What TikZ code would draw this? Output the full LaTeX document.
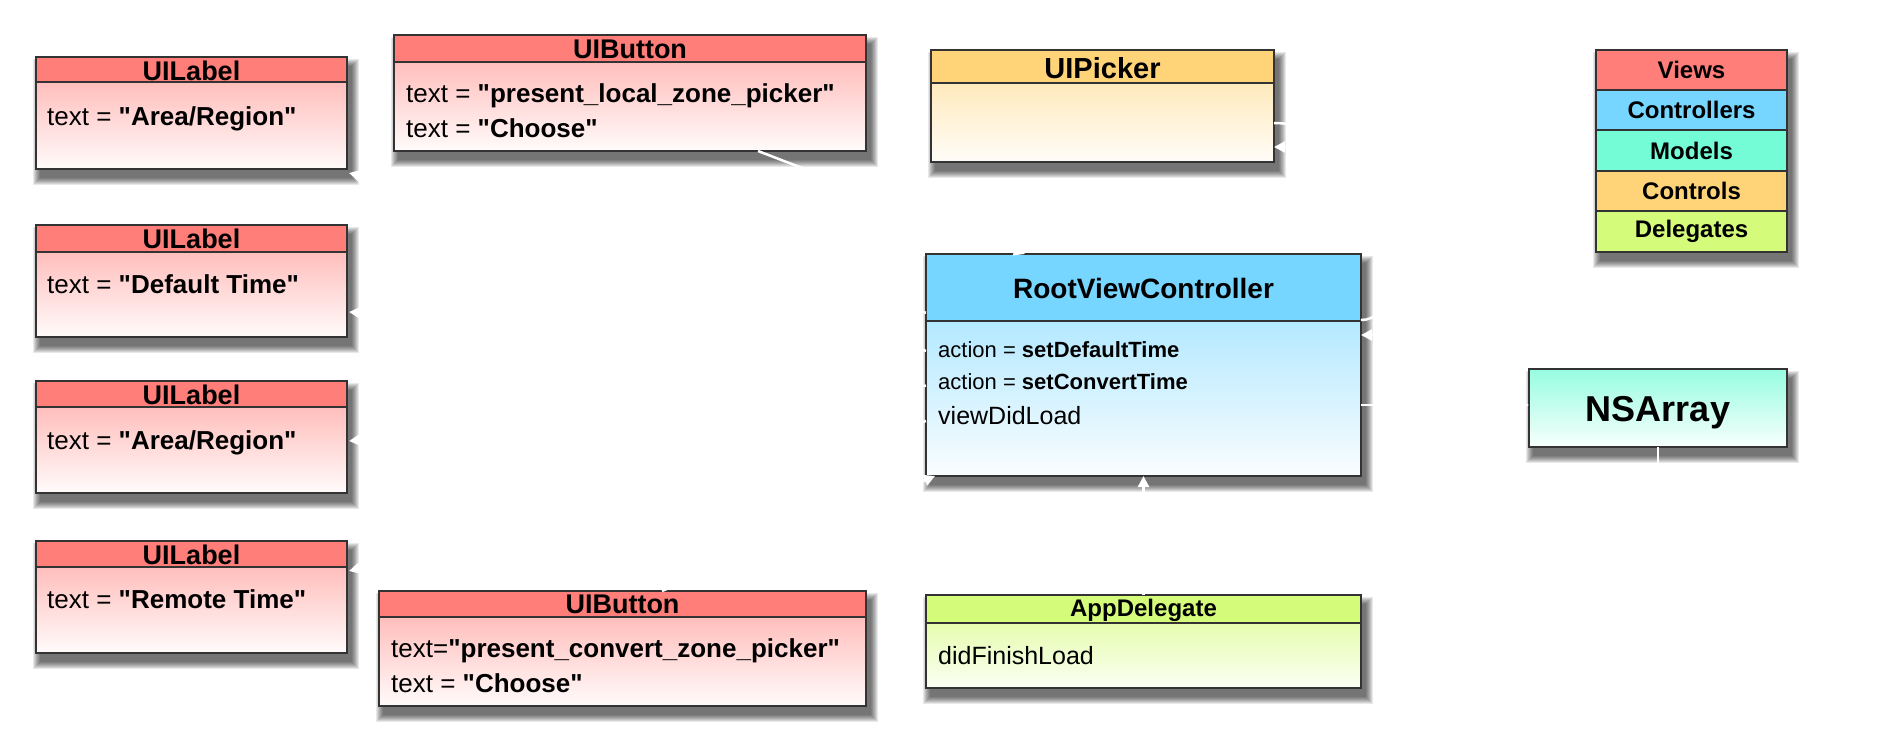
\documentclass[tikz,border=0pt]{standalone}
\usepackage{fontspec}
\setmainfont{Liberation Sans}
\usetikzlibrary{arrows.meta}
\definecolor{salmon}{HTML}{FF7E79}
\definecolor{sky}{HTML}{76D6FF}
\definecolor{spindrift}{HTML}{73FCD6}
\definecolor{cantaloupe}{HTML}{FFD479}
\definecolor{honeydew}{HTML}{D4FB79}
\definecolor{bordergray}{HTML}{333333}
\newcommand\qq[1]{\textquotedbl#1\textquotedbl}
\tikzset{
  boxbase/.style={rectangle, inner sep=0pt, outer sep=0pt, draw=none},
  border/.style={draw=bordergray, line width=2pt},
  hdr/.style={anchor=base, inner sep=0pt, text=black, font=\bfseries\fontsize{27}{32}\selectfont},
  txt/.style={anchor=base west, inner sep=0pt, text=black, font=\fontsize{26}{31}\selectfont},
  conn/.style={draw=white, line width=2.5pt, -{Triangle[length=11pt,width=11pt]}},
  ghost/.style={anchor=base west, inner sep=0pt, text=white, font=\fontsize{27}{32}\selectfont},
  legendrow/.style={rectangle, draw=bordergray, line width=2pt, inner sep=0pt, minimum width=191pt, text=black, font=\bfseries\fontsize{24}{28}\selectfont},
}
\newcommand\softshadow[4]{%
  \foreach \k in {1,...,8}{%
    \pgfmathsetmacro\shinf{(8-\k)*1.0}
    \fill[black, opacity=0.09] (#1+4-\shinf, #2+9-\shinf) rectangle (#3+5+\shinf, #4+9+\shinf);
  }}
\newcommand\umlbox[9]{%
  \softshadow{#2}{#3}{#4}{#5}
  \pgfmathsetmacro\bxw{#4-#2}\pgfmathsetmacro\bxh{#5-#3}
  \node[boxbase, fill=white, minimum width=\bxw pt, minimum height=\bxh pt, anchor=north west] (#1) at (#2,#3) {};
  \shade[top color=#8, bottom color=#9] (#2,#6) rectangle (#4,#5);
  \fill[#7] (#2,#3) rectangle (#4,#6);
  \draw[border] (#2,#6) -- (#4,#6);
  \draw[border] (#2,#3) rectangle (#4,#5);
}
\begin{document}
\begin{tikzpicture}[x=1pt,y=-1pt]
\fill[white] (0,0) rectangle (1878,748);
\useasboundingbox (0,0) rectangle (1878,748);

% ---- UILabels
\umlbox{lab1}{36}{57}{347}{169}{82}{salmon}{salmon!50!white}{salmon!3!white}
\node[hdr] (lab1t) at (191.5,80) {UILabel};
\node[txt] (lab1a) at (47,125) {text = \textbf{\qq{Area/Region}}};

\umlbox{lab2}{36}{225}{347}{337}{252}{salmon}{salmon!50!white}{salmon!3!white}
\node[hdr] (lab2t) at (191.5,248) {UILabel};
\node[txt] (lab2a) at (47,293) {text = \textbf{\qq{Default Time}}};

\umlbox{lab3}{36}{381}{347}{493}{407}{salmon}{salmon!50!white}{salmon!3!white}
\node[hdr] (lab3t) at (191.5,404) {UILabel};
\node[txt] (lab3a) at (47,449) {text = \textbf{\qq{Area/Region}}};

\umlbox{lab4}{36}{541}{347}{653}{567}{salmon}{salmon!50!white}{salmon!3!white}
\node[hdr] (lab4t) at (191.5,564) {UILabel};
\node[txt] (lab4a) at (47,608) {text = \textbf{\qq{Remote Time}}};

% ---- UIButtons
\umlbox{btn1}{394}{35}{866}{151}{62}{salmon}{salmon!50!white}{salmon!3!white}
\node[hdr] (btn1t) at (630,58) {UIButton};
\node[txt] (btn1a) at (406,102) {text = \textbf{\qq{present\_local\_zone\_picker}}};
\node[txt] (btn1b) at (406,137) {text = \textbf{\qq{Choose}}};

\umlbox{btn2}{379}{591}{866}{706}{617}{salmon}{salmon!50!white}{salmon!3!white}
\node[hdr] (btn2t) at (622.5,613) {UIButton};
\node[txt] (btn2a) at (391,657) {text=\textbf{\qq{present\_convert\_zone\_picker}}};
\node[txt] (btn2b) at (391,692) {text = \textbf{\qq{Choose}}};

% ---- UIPicker
\umlbox{picker}{931}{50}{1274}{162}{83}{cantaloupe}{cantaloupe!50!white}{cantaloupe!5!white}
\node[hdr, font=\bfseries\fontsize{29}{34}\selectfont] (pickert) at (1102.5,78) {UIPicker};

% ---- RootViewController
\umlbox{rvc}{926}{254}{1361}{476}{321}{sky}{sky!55!white}{sky!4!white}
\node[hdr, font=\bfseries\fontsize{28}{33}\selectfont] (rvct) at (1143.5,298) {RootViewController};
\node[txt, font=\fontsize{22}{26}\selectfont] (rvca) at (938,357) {action = \textbf{setDefaultTime}};
\node[txt, font=\fontsize{22}{26}\selectfont] (rvcb) at (938,389) {action = \textbf{setConvertTime}};
\node[txt, font=\fontsize{25}{30}\selectfont] (rvcc) at (938,424) {viewDidLoad};

% ---- AppDelegate
\umlbox{appdel}{926}{595}{1361}{688}{623}{honeydew}{honeydew!60!white}{honeydew!8!white}
\node[hdr, font=\bfseries\fontsize{24}{28}\selectfont] (appdelt) at (1143.5,616) {AppDelegate};
\node[txt, font=\fontsize{25}{30}\selectfont] (appdela) at (938,664) {didFinishLoad};

% ---- NSArray
\softshadow{1529}{369}{1787}{447}
\node[boxbase, minimum width=258pt, minimum height=78pt, anchor=north west,
      top color=spindrift!75!white, bottom color=spindrift!5!white] (nsarray) at (1529,369) {};
\draw[border] (1529,369) rectangle (1787,447);
\node[hdr, font=\bfseries\fontsize{36}{42}\selectfont] (nsarrayt) at (1658,421) {NSArray};

% ---- Legend
\softshadow{1596}{50}{1787}{252}
\node[legendrow, fill=salmon, minimum height=40pt] (lgviews) at (1691.5,70) {Views};
\node[legendrow, fill=sky, minimum height=40pt] (lgctrl) at (1691.5,110) {Controllers};
\node[legendrow, fill=spindrift, minimum height=41pt] (lgmodels) at (1691.5,150.5) {Models};
\node[legendrow, fill=cantaloupe, minimum height=40pt] (lgcontrols) at (1691.5,191) {Controls};
\node[legendrow, fill=honeydew, minimum height=41pt] (lgdeleg) at (1691.5,231.5) {Delegates};

% ---- faint (white) connector labels
\node[ghost] (lbldelegate) at (1315,65) {Delegate};
\node[ghost] (lbldatasource) at (1203,217) {DataSource};
\node[ghost] (lbltarget1) at (843,235) {target};
\node[ghost] (lbltarget2) at (843,555) {target};
\node[ghost, font=\fontsize{24}{28}\selectfont] (areas) at (1693,537) {Areas/Regions};

% ---- connectors (white)
\coordinate (b1out) at (758,151);
\coordinate (rvcin1) at (1025,254);
\coordinate (b2out) at (662,591);
\coordinate (rvcin2) at (935,476);
\coordinate (l1in) at (349,173);
\coordinate (l2in) at (349,312);
\coordinate (l3in) at (349,441);
\coordinate (l4in) at (349,571);
\coordinate (pkout) at (1274,123);
\coordinate (pkin) at (1274,147);
\coordinate (rvcout) at (1361,320);
\coordinate (rvcin3) at (1361,335);
\coordinate (rvcout2) at (1361,405);

\draw[conn] (b1out) -- (rvcin1);
\draw[conn] (b2out) -- (rvcin2);
\draw[conn] (rvc) -- (l1in);
\draw[conn] (rvc) -- (l2in);
\draw[conn] (rvc) -- (l3in);
\draw[conn] (rvc) -- (l4in);
\draw[conn] (pkout) .. controls (1390,123) and (1480,335) .. (rvcin3);
\draw[conn] (rvcout) .. controls (1420,320) and (1380,147) .. (pkin);
\draw[conn] (rvcout2) -- (nsarray.west |- rvcout2);
\draw[conn] (nsarray.south) |- (areas.west);
\draw[conn] (appdel) -- (rvc);
\end{tikzpicture}
\end{document}
